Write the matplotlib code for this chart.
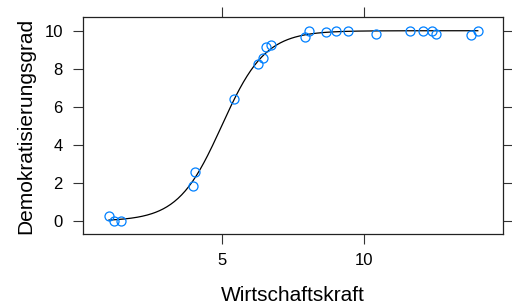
import numpy as np
import matplotlib
matplotlib.use("Agg")
import matplotlib.pyplot as plt

plt.rcParams['font.family'] = ['Liberation Sans', 'DejaVu Sans']

# data
wirtschaft = [1.01, 1.19, 1.43, 3.97, 4.04, 5.42, 6.25, 6.43, 6.54, 6.71,
              7.91, 8.05, 8.65, 9.00, 9.42, 10.41, 11.61, 12.07, 12.39,
              12.53, 13.76, 14.00]
demokratie = [0.26, 0.00, 0.00, 1.84, 2.57, 6.41, 8.25, 8.57, 9.14, 9.25,
              9.67, 9.98, 9.93, 9.98, 9.98, 9.82, 9.98, 9.98, 9.98,
              9.82, 9.77, 9.98]
# fitted logistic curve parameters
curve_upper = 10.0
curve_slope = 1.30
curve_mid = 4.98

x_ticks = [5, 10]
y_ticks = [0, 2, 4, 6, 8, 10]

fig = plt.figure(figsize=(5.12, 3.04), dpi=100)
ax = fig.add_axes([0.162, 0.230, 0.820, 0.714])

xs = np.linspace(min(wirtschaft), max(wirtschaft), 300)
ys = curve_upper / (1 + np.exp(-curve_slope * (xs - curve_mid)))
ax.plot(xs, ys, color='black', lw=0.9, zorder=2)
ax.plot(wirtschaft, demokratie, linestyle='none', marker='o', markersize=6.5,
        markerfacecolor='none', markeredgecolor='#0080ff', markeredgewidth=0.9,
        zorder=3)

ax.set_xlim(0.095, 14.88)
ax.set_ylim(-0.68, 10.72)
ax.set_xticks(x_ticks)
ax.set_yticks(y_ticks)
ax.tick_params(axis='both', which='both', direction='out', length=7.5, width=0.8,
               color='#333333', labelsize=12, top=True, right=True,
               labeltop=False, labelright=False, pad=6)
ax.tick_params(axis='y', pad=7)
for s in ax.spines.values():
    s.set_linewidth(0.9)
    s.set_color('#222222')

ax.set_xlabel('Wirtschaftskraft', fontsize=15, va='center')
ax.set_ylabel('Demokratisierungsgrad', fontsize=15, va='center')
ax.xaxis.set_label_coords(0.5, -0.281)
ax.yaxis.set_label_coords(-0.137, 0.5)

fig.savefig('out.png', dpi=100)
